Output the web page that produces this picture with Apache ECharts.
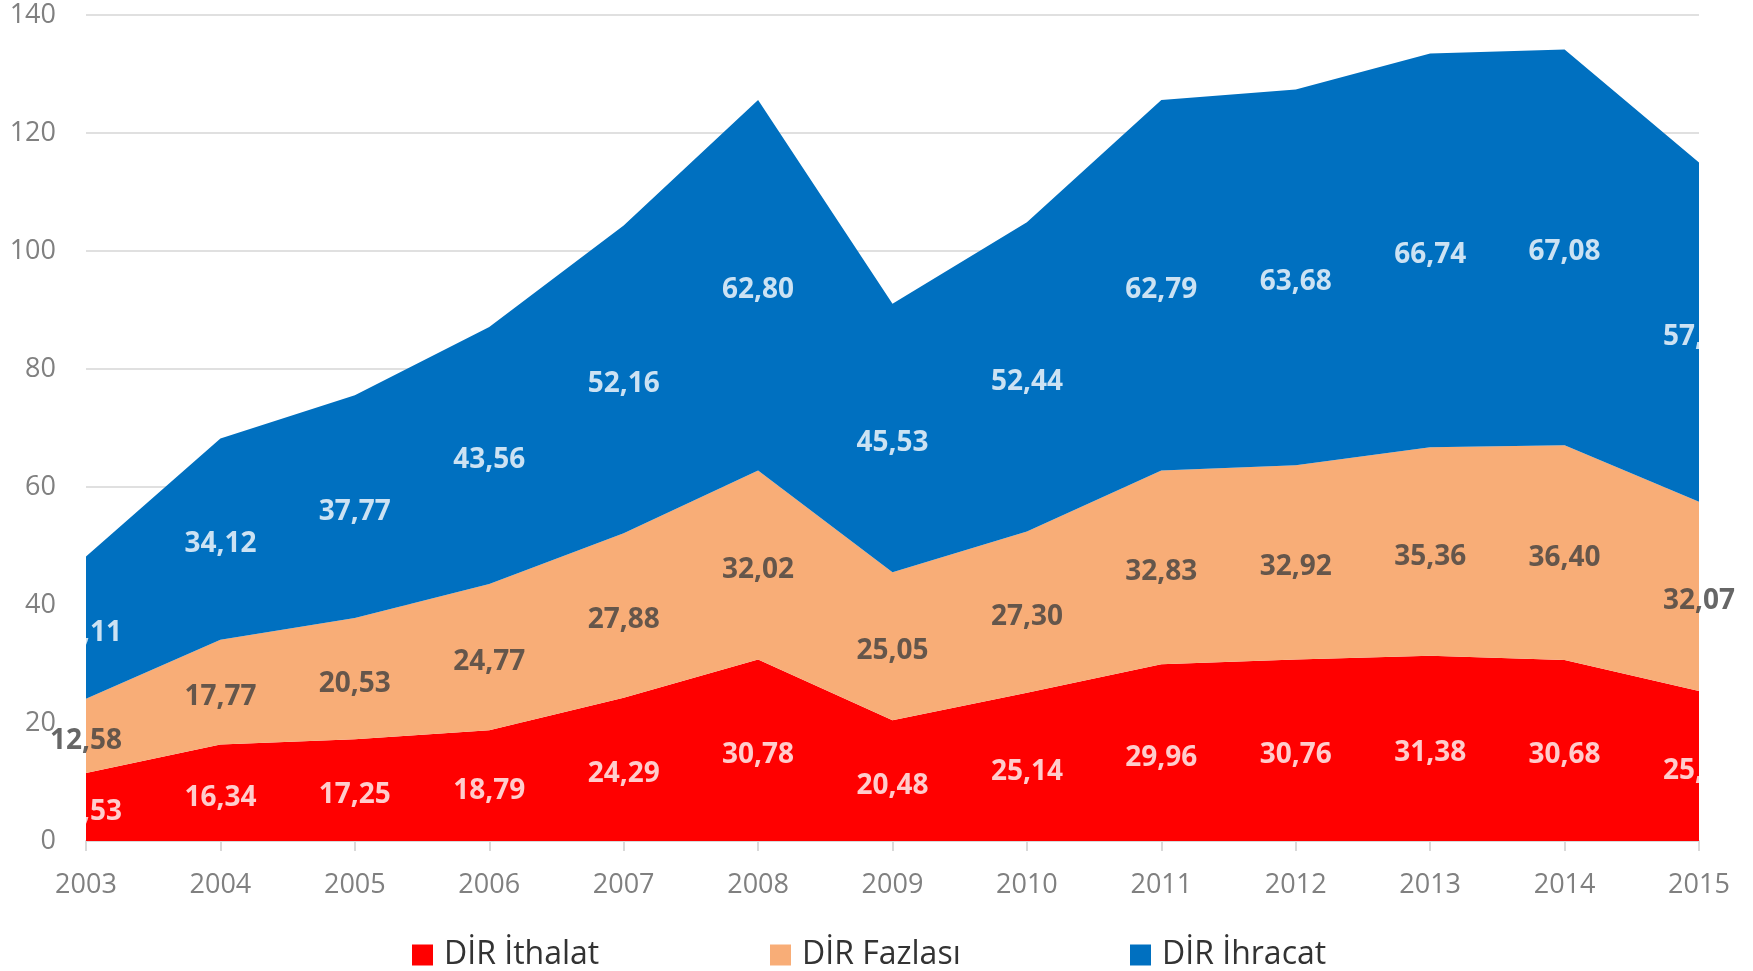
<!DOCTYPE html>
<html>
<head>
<meta charset="utf-8">
<script src="https://cdn.jsdelivr.net/npm/echarts@6/dist/echarts.min.js"></script>
<style>
html,body{margin:0;padding:0;background:#fff;}
#chart{width:1753px;height:971px;}
</style>
</head>
<body>
<div id="chart"></div>
<script>
const years = ['2003','2004','2005','2006','2007','2008','2009','2010','2011','2012','2013','2014','2015'];
const ithalat = [11.53,16.34,17.25,18.79,24.29,30.78,20.48,25.14,29.96,30.76,31.38,30.68,25.43];
const fazlasi = [12.58,17.77,20.53,24.77,27.88,32.02,25.05,27.30,32.83,32.92,35.36,36.40,32.07];
const ihracat = [24.11,34.12,37.77,43.56,52.16,62.80,45.53,52.44,62.79,63.68,66.74,67.08,57.50];
const seriesNames = ['DİR İthalat','DİR Fazlası','DİR İhracat'];
const colors = ['#ff0000','#f8ad77','#0070c0'];
const labelColors = ['#ffffff','#404040','#ffffff'];
const yTicks = {min:0, max:140, interval:20};

const FONT = '"Open Sans", sans-serif';
const fmt = v => v.toFixed(2).replace('.', ',');

const layers = [ithalat, fazlasi, ihracat];
const areaSeries = layers.map((arr, i) => ({
  name: seriesNames[i],
  type: 'line',
  stack: 'total',
  data: arr,
  symbol: 'none',
  lineStyle: {width: 0},
  areaStyle: {color: colors[i], opacity: 1},
  itemStyle: {color: colors[i]},
  z: 2
}));

// label carriers at the middle of each stacked band
const labelSeries = layers.map((arr, i) => {
  const mids = arr.map((v, k) => {
    let base = 0;
    for (let j = 0; j < i; j++) base += layers[j][k];
    return [k, base + v / 2, v];
  });
  return {
    name: 'lbl' + i,
    type: 'scatter',
    data: mids,
    symbolSize: 0,
    silent: true,
    z: 5,
    label: {
      show: true,
      position: 'inside',
      offset: [0, 5],
      formatter: p => fmt(p.data[2]),
      color: labelColors[i],
      fontFamily: FONT,
      fontWeight: 'bold',
      fontSize: 28
    }
  };
});

const legendLefts = [407, 765, 1125];
const legends = seriesNames.map((n, i) => ({
  data: [n],
  left: legendLefts[i],
  top: 934,
  itemWidth: 21,
  itemHeight: 21,
  icon: 'rect',
  selectedMode: false,
  textStyle: {fontFamily: FONT, fontSize: 32, color: '#333333', padding: [0,0,0,6]}
}));

const chart = echarts.init(document.getElementById('chart'), null, {renderer: 'canvas'});
chart.setOption({
  animation: false,
  backgroundColor: '#ffffff',
  grid: {left: 86, right: 54, top: 15, bottom: 130, containLabel: false},
  legend: legends,
  xAxis: {
    type: 'category',
    data: years,
    boundaryGap: false,
    axisLine: {show: true, lineStyle: {color: '#d9d9d9', width: 2}},
    axisTick: {show: true, length: 10, lineStyle: {color: '#d9d9d9', width: 2}},
    axisLabel: {fontFamily: FONT, fontSize: 27, color: '#808080', margin: 31},
    splitLine: {show: false}
  },
  yAxis: {
    type: 'value',
    min: yTicks.min, max: yTicks.max, interval: yTicks.interval,
    axisLine: {show: false},
    axisTick: {show: false},
    axisLabel: {fontFamily: FONT, fontSize: 27, color: '#808080', margin: 30},
    splitLine: {lineStyle: {color: '#e0e0e0', width: 2}}
  },
  series: [...areaSeries, ...labelSeries]
});
</script>
</body>
</html>
